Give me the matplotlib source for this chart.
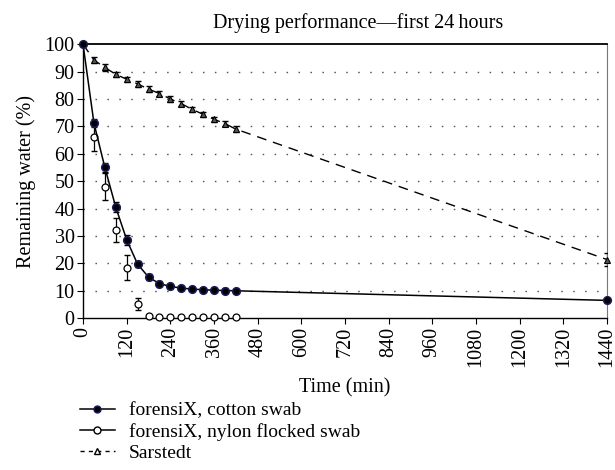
import numpy as np
import matplotlib
matplotlib.use("Agg")
import matplotlib.pyplot as plt
from matplotlib.lines import Line2D

plt.rcParams['font.family'] = ['Liberation Serif', 'DejaVu Serif']
plt.rcParams['font.size'] = 14.5

# time points (min)
t_cotton = [0, 30, 60, 90, 120, 150, 180, 210, 240, 270, 300, 330, 360, 390, 420, 1440]
cotton = [100, 71.2, 55, 40.5, 28.6, 19.7, 15, 12.6, 11.6, 11, 10.6, 10.4, 10.2, 10.1, 10, 6.5]
cotton_err = [0, 1.5, 1.5, 1.8, 1.8, 1.2, 1, 1, 1, 0.8, 0.8, 0.8, 0.8, 0.8, 0.8, 0.5]

t_nylon = [30, 60, 90, 120, 150, 180, 210, 240, 270, 300, 330, 360, 390, 420]
nylon = [66, 48, 32.2, 18.4, 5.2, 0.8, 0.5, 0.4, 0.4, 0.4, 0.4, 0.4, 0.4, 0.4]
nylon_err = [5, 5, 4.5, 4.5, 2.3, 0.5, 0.2, 0.2, 0.2, 0.2, 0.2, 0.2, 0.2, 0.2]

t_sar = [0, 30, 60, 90, 120, 150, 180, 210, 240, 270, 300, 330, 360, 390, 420, 1440]
sarstedt = [100, 94.2, 91.5, 89, 87.2, 85.5, 83.6, 82, 80, 78.3, 76.2, 74.4, 72.6, 71, 69, 21.4]
sar_err = [0, 1.2, 1.2, 1, 1, 1, 1, 1, 1, 1, 1, 1, 1, 1, 1, 2.5]

fig = plt.figure(figsize=(6.15, 4.7), dpi=100)
ax = fig.add_axes([0.135, 0.323, 0.852, 0.583])

ax.errorbar(t_sar[1:], sarstedt[1:], yerr=sar_err[1:], fmt='none', ecolor='black', elinewidth=0.9, capsize=2.5, zorder=3)
ax.plot(t_sar, sarstedt, color='black', linestyle=(0, (7, 5)), linewidth=1.0, zorder=3)
ax.plot(t_sar[1:], sarstedt[1:], linestyle='none', marker='^', markersize=5,
        markerfacecolor='#555555', markeredgecolor='black', markeredgewidth=0.8, zorder=4, clip_on=False)

ax.errorbar(t_nylon, nylon, yerr=nylon_err, fmt='none', ecolor='black', elinewidth=0.9, capsize=2.5, zorder=3)
ax.plot(t_nylon, nylon, linestyle='none', marker='o', markersize=5,
        markerfacecolor='white', markeredgecolor='black', markeredgewidth=0.9, zorder=4, clip_on=False)

ax.errorbar(t_cotton, cotton, yerr=cotton_err, fmt='none', ecolor='black', elinewidth=0.9, capsize=2.5, zorder=5)
ax.plot(t_cotton, cotton, color='black', linewidth=1.1, marker='o', markersize=5.5,
        markerfacecolor='black', markeredgecolor='#1c1c5a', markeredgewidth=1.1, zorder=6, clip_on=False)

ax.set_xlim(0, 1440)
ax.set_ylim(0, 100)
ax.set_xticks(np.arange(0, 1441, 120))
ax.set_yticks(np.arange(0, 101, 10))
ax.tick_params(axis='x', rotation=90, direction='out', length=4, pad=2)
ax.tick_params(axis='y', direction='out', length=4, pad=2)
for y in range(10, 100, 10):
    ax.axhline(y, color='#555555', linestyle=(0, (1.1, 7.5)), linewidth=1.0, zorder=1)

ax.spines['top'].set_linewidth(1.3)
ax.spines['left'].set_linewidth(1.0)
ax.spines['bottom'].set_linewidth(1.0)
ax.spines['right'].set_color('#777777')

ax.set_title('Drying performance\u2014first 24\u2009hours', fontsize=14.5, pad=12, x=0.525)
ax.set_xlabel('Time (min)', labelpad=8)
ax.set_ylabel('Remaining water (%)', labelpad=6)

handles = [
    Line2D([], [], color='black', linewidth=1.1, marker='o', markersize=5,
           markerfacecolor='black', markeredgecolor='#1c1c5a'),
    Line2D([], [], color='black', linewidth=1.1, marker='o', markersize=5,
           markerfacecolor='white', markeredgecolor='black'),
    Line2D([], [], color='black', linewidth=1.0, linestyle=(0, (3, 3)), marker='^', markersize=5,
           markerfacecolor='white', markeredgecolor='black'),
]
labels = ['forensiX, cotton swab', 'forensiX, nylon flocked swab', 'Sarstedt']
fig.legend(handles, labels, loc='upper left', bbox_to_anchor=(0.13, 0.145),
           frameon=False, handlelength=1.8, handletextpad=0.7, labelspacing=0.18,
           borderaxespad=0, borderpad=0, fontsize=14)

fig.savefig('out.png', dpi=100)
